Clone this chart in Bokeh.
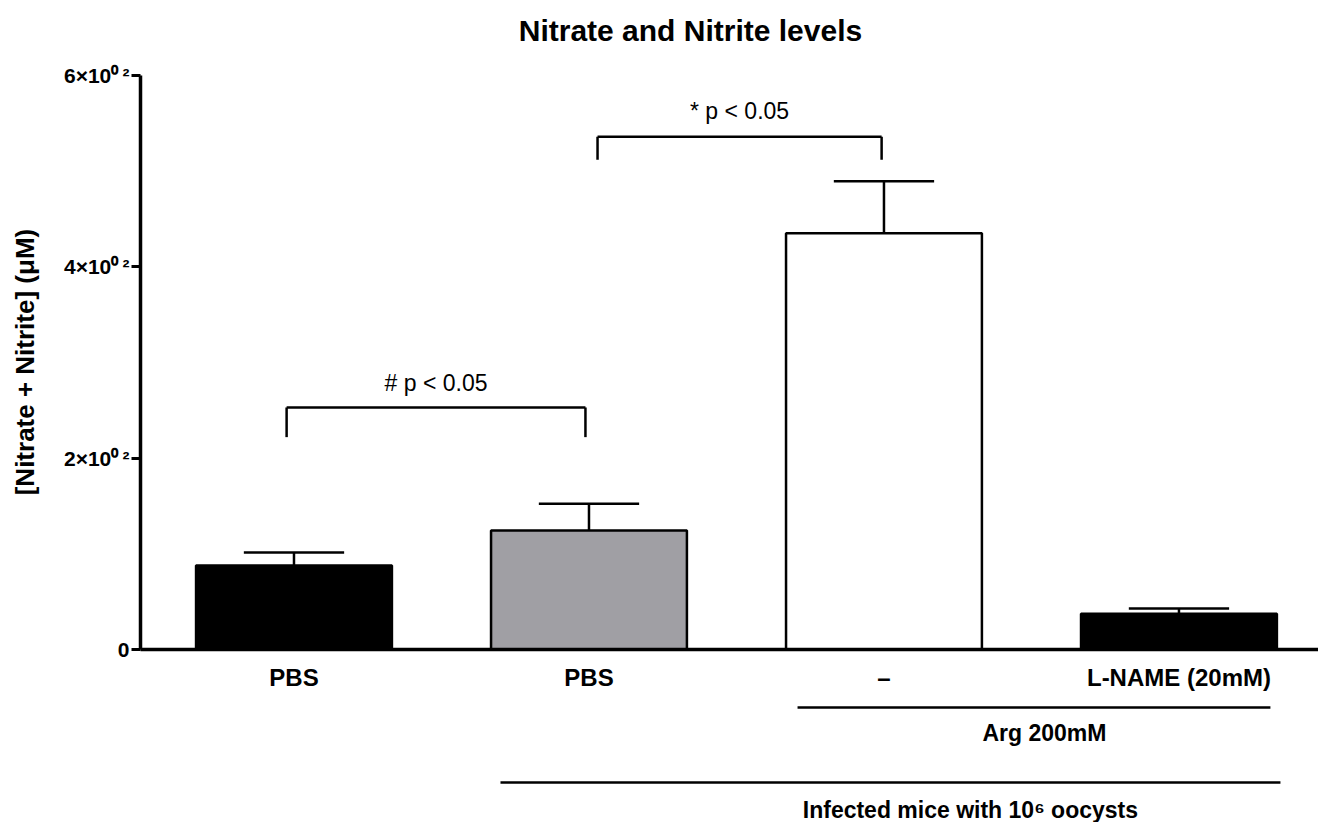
import math
from bokeh.plotting import figure
from bokeh.models import LinearAxis, FixedTicker, Range1d, ColumnDataSource
from bokeh.core.properties import value
from bokeh.embed import file_html
from bokeh.resources import INLINE

# ---- data ----
categories = ["PBS", "PBS", "\u2013", "L-NAME (20mM)"]
means = [87.8, 124.5, 435.0, 37.5]
err_top = [101.5, 152.5, 489.5, 43.0]
bar_colors = ["#000000", "#a09fa4", "#ffffff", "#000000"]
y_ticks = [0, 200, 400, 600]
y_tick_labels = ["0", "2\u00d710\u2070\u2009\u00b2", "4\u00d710\u2070\u2009\u00b2", "6\u00d710\u2070\u2009\u00b2"]

sig_left = [-0.025, 1.029]
sig_right = [0.988, 1.992]
sig_top = [253, 536]
sig_leg = [222, 512]
sig_text = ["# p < 0.05", "* p < 0.05"]
sig_text_y = [279, 563]

group_text = ["Arg 200mM", "Infected mice with 10\u2076 oocysts"]
group_x0 = [1.707, 0.70]
group_x1 = [3.31, 3.344]
group_line_y = [-60.6, -139.0]
group_text_x = [2.544, 2.293]
group_text_y = [-86.8, -168.0]

title_text = "Nitrate and Nitrite levels"
y_label = "[Nitrate + Nitrite] (\u03bcM)"

FONT = "Liberation Sans"
idx = list(range(len(categories)))
X_AXIS_START = -0.5203

p = figure(width=1318, height=822, output_backend="svg", toolbar_location=None,
           x_range=Range1d(-0.9949, 3.473), y_range=Range1d(-180.8, 678.4),
           x_axis_location=None, y_axis_location=None,
           min_border_left=0, min_border_right=0, min_border_top=0, min_border_bottom=0)
p.outline_line_color = None
p.xgrid.grid_line_color = None
p.ygrid.grid_line_color = None
p.background_fill_color = "white"

# bars
src = ColumnDataSource(dict(x=idx, top=means, err=err_top, color=bar_colors))
p.vbar(x="x", top="top", bottom=0, width=0.664, fill_color="color",
       line_color="black", line_width=2.5, source=src)
p.segment(x0="x", y0="top", x1="x", y1="err", line_color="black", line_width=2.5, source=src)
p.segment(x0=[i - 0.17 for i in idx], y0=err_top, x1=[i + 0.17 for i in idx], y1=err_top,
          line_color="black", line_width=2.5)

# significance brackets
p.segment(x0=sig_left, y0=sig_top, x1=sig_right, y1=sig_top, line_color="black", line_width=2.5)
p.segment(x0=sig_left, y0=sig_leg, x1=sig_left, y1=sig_top, line_color="black", line_width=2.5)
p.segment(x0=sig_right, y0=sig_leg, x1=sig_right, y1=sig_top, line_color="black", line_width=2.5)
p.text(x=[(a + b) / 2 for a, b in zip(sig_left, sig_right)], y=sig_text_y, text=sig_text,
       text_font=value(FONT), text_font_size="23px", text_align="center",
       text_baseline="middle", text_color="black")

# group lines
p.segment(x0=group_x0, y0=group_line_y, x1=group_x1, y1=group_line_y,
          line_color="black", line_width=2.5)
p.text(x=group_text_x, y=group_text_y, text=group_text, text_font=value(FONT),
       text_font_size="23px", text_font_style="bold", text_align="center",
       text_baseline="middle", text_color="black")

# title
p.text(x=[1.344], y=[647], text=[title_text], text_font=value(FONT), text_font_size="30px",
       text_font_style="bold", text_align="center", text_baseline="middle", text_color="black")

# y axis label
p.text(x=[-0.912], y=[300.5], text=[y_label], angle=math.pi / 2, text_font=value(FONT),
       text_font_size="26px", text_font_style="bold", text_align="center",
       text_baseline="middle", text_color="black")

# axes
yax = LinearAxis(ticker=FixedTicker(ticks=y_ticks), bounds=(0, 600), fixed_location=X_AXIS_START)
yax.major_label_overrides = {t: l for t, l in zip(y_ticks, y_tick_labels)}
yax.axis_line_width = 3.5
yax.axis_line_color = "black"
yax.major_tick_line_width = 3
yax.major_tick_line_color = "black"
yax.major_tick_out = 9
yax.major_tick_in = 0
yax.minor_tick_line_color = None
yax.major_label_text_font = FONT
yax.major_label_text_font_style = "bold"
yax.major_label_text_font_size = "21px"
yax.major_label_text_color = "black"
yax.major_label_standoff = 2
p.add_layout(yax, "left")

xax = LinearAxis(ticker=FixedTicker(ticks=idx), fixed_location=0, bounds=(X_AXIS_START, 3.473))
xax.major_label_overrides = {i: c for i, c in zip(idx, categories)}
xax.axis_line_width = 3.5
xax.axis_line_color = "black"
xax.major_tick_line_color = None
xax.minor_tick_line_color = None
xax.major_label_text_font = FONT
xax.major_label_text_font_style = "bold"
xax.major_label_text_font_size = "24px"
xax.major_label_text_color = "black"
xax.major_label_standoff = 8
p.add_layout(xax, "below")

open("out.html", "w").write(file_html(p, INLINE))
